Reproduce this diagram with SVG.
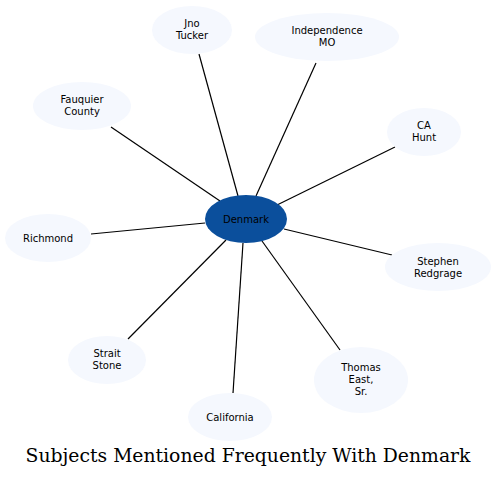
<svg xmlns="http://www.w3.org/2000/svg" width="496" height="477" viewBox="0 0 496 477">
<style>
.n{fill:#f5f8fe;stroke:none}
.c{fill:#0b4f9c;stroke:none}
.t{font-family:"DejaVu Sans",sans-serif;font-size:10px;fill:#000;text-anchor:middle}
.e{stroke:#000;stroke-width:1.2;fill:none}
.title{font-family:"DejaVu Serif",serif;font-size:18.8px;fill:#000;text-anchor:middle}
</style>
<rect width="496" height="477" fill="#fff"/>
<g id="edges">
<line class="e" x1="199" y1="54" x2="238" y2="196"/>
<line class="e" x1="316" y1="63" x2="256" y2="196"/>
<line class="e" x1="111" y1="127" x2="220" y2="201"/>
<line class="e" x1="395" y1="147" x2="277" y2="205"/>
<line class="e" x1="91" y1="234" x2="205" y2="223"/>
<line class="e" x1="392" y1="255" x2="284" y2="229"/>
<line class="e" x1="128" y1="339" x2="226" y2="240"/>
<line class="e" x1="340" y1="350" x2="262" y2="241"/>
<line class="e" x1="233" y1="393" x2="243" y2="243"/>
</g>
<g id="jno"><ellipse class="n" cx="192" cy="30" rx="40" ry="24"/><text class="t" x="192" y="27">Jno</text><text class="t" x="192" y="39">Tucker</text></g>
<g id="independence"><ellipse class="n" cx="327" cy="37" rx="72" ry="24"/><text class="t" x="327" y="34">Independence</text><text class="t" x="327" y="46">MO</text></g>
<g id="fauquier"><ellipse class="n" cx="82" cy="106" rx="49" ry="24"/><text class="t" x="82" y="103">Fauquier</text><text class="t" x="82" y="115">County</text></g>
<g id="cahunt"><ellipse class="n" cx="424" cy="132" rx="37" ry="24"/><text class="t" x="424" y="129">CA</text><text class="t" x="424" y="141">Hunt</text></g>
<g id="richmond"><ellipse class="n" cx="48" cy="238" rx="43" ry="24"/><text class="t" x="48" y="241.5">Richmond</text></g>
<g id="denmark"><ellipse class="c" cx="246" cy="219" rx="41" ry="24"/><text class="t" x="246" y="222.5">Denmark</text></g>
<g id="stephen"><ellipse class="n" cx="438" cy="267" rx="53" ry="24"/><text class="t" x="438" y="264.5">Stephen</text><text class="t" x="438" y="276.5">Redgrage</text></g>
<g id="strait"><ellipse class="n" cx="107" cy="360" rx="39" ry="24"/><text class="t" x="107" y="357">Strait</text><text class="t" x="107" y="369">Stone</text></g>
<g id="thomas"><ellipse class="n" cx="361" cy="380" rx="47" ry="33"/><text class="t" x="361" y="371">Thomas</text><text class="t" x="361" y="383">East,</text><text class="t" x="361" y="395">Sr.</text></g>
<g id="california"><ellipse class="n" cx="230" cy="417" rx="42" ry="24"/><text class="t" x="230" y="420.5">California</text></g>
<text class="title" x="248" y="462">Subjects Mentioned Frequently With Denmark</text>
</svg>
